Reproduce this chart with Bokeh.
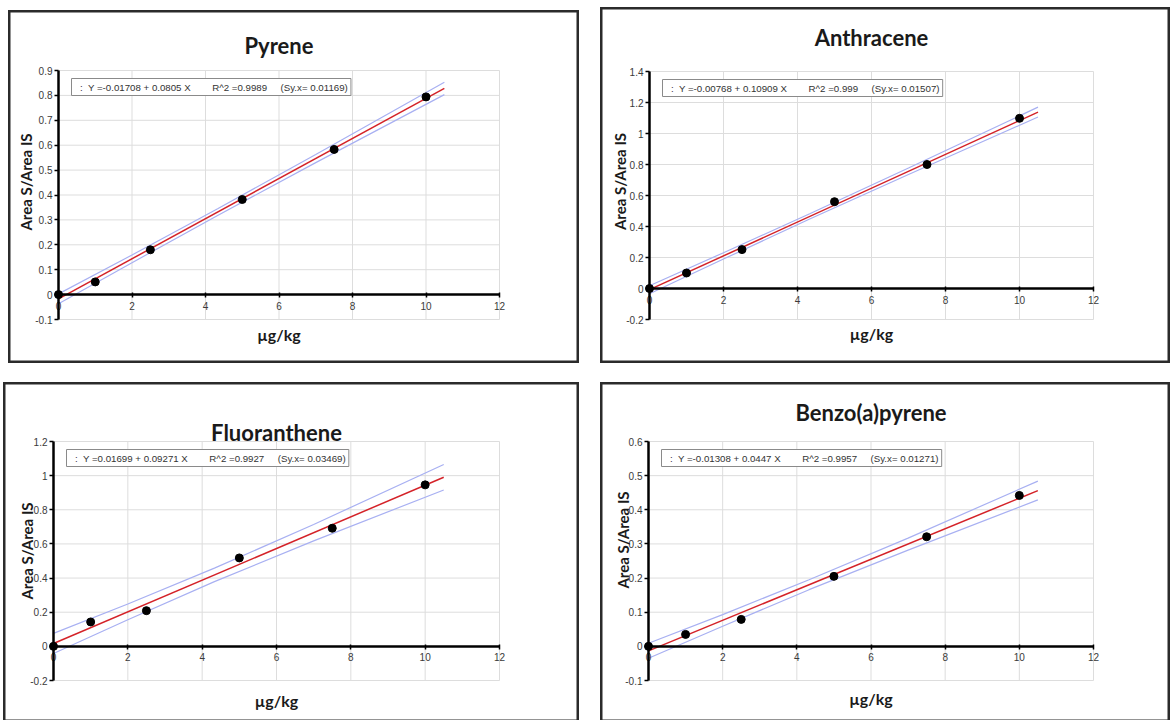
import math
from bokeh.plotting import figure
from bokeh.layouts import row, column
from bokeh.models import Label, FixedTicker, Range1d
from bokeh.embed import file_html
from bokeh.resources import INLINE

# ---------------- data ----------------
conc = [0, 1, 2.5, 5, 7.5, 10]
names = ["Pyrene", "Anthracene", "Fluoranthene", "Benzo(a)pyrene"]

pyrene = [0, 0.051, 0.18, 0.382, 0.583, 0.794]
anthracene = [0, 0.10, 0.251, 0.56, 0.80, 1.098]
fluoranthene = [0, 0.143, 0.209, 0.518, 0.692, 0.946]
benzo_a_pyrene = [0, 0.035, 0.079, 0.205, 0.321, 0.442]
responses = [pyrene, anthracene, fluoranthene, benzo_a_pyrene]

intercepts = [-0.01708, -0.00768, 0.01699, -0.01308]
slopes = [0.0805, 0.10909, 0.09271, 0.0447]
intercept_txt = ["-0.01708", "-0.00768", "0.01699", "-0.01308"]
slope_txt = ["0.0805", "0.10909", "0.09271", "0.0447"]
r2_txt = ["0.9989", "0.999", "0.9927", "0.9957"]
syx_txt = ["0.01169", "0.01507", "0.03469", "0.01271"]

fit_x = [0, 10.5]
band_x = [0, 2, 4.33, 7, 10.5]
band_upper = [
    [0.003, 0.159, 0.345, 0.563, 0.853],
    [0.018, 0.231, 0.482, 0.777, 1.170],
    [0.076, 0.248, 0.458, 0.714, 1.065],
    [0.009, 0.093, 0.195, 0.317, 0.484],
]
band_lower = [
    [-0.037, 0.128, 0.318, 0.530, 0.803],
    [-0.034, 0.190, 0.448, 0.735, 1.106],
    [-0.042, 0.156, 0.379, 0.618, 0.916],
    [-0.035, 0.059, 0.166, 0.282, 0.429],
]

x_ticks = [0, 2, 4, 6, 8, 10, 12]
x_tick_labels = ["0", "2", "4", "6", "8", "10", "12"]
y_ticks = [
    [-0.1, 0, 0.1, 0.2, 0.3, 0.4, 0.5, 0.6, 0.7, 0.8, 0.9],
    [-0.2, 0, 0.2, 0.4, 0.6, 0.8, 1.0, 1.2, 1.4],
    [-0.2, 0, 0.2, 0.4, 0.6, 0.8, 1.0, 1.2],
    [-0.1, 0, 0.1, 0.2, 0.3, 0.4, 0.5, 0.6],
]
y_tick_labels = [
    ["-0.1", "0", "0.1", "0.2", "0.3", "0.4", "0.5", "0.6", "0.7", "0.8", "0.9"],
    ["-0.2", "0", "0.2", "0.4", "0.6", "0.8", "1", "1.2", "1.4"],
    ["-0.2", "0", "0.2", "0.4", "0.6", "0.8", "1", "1.2"],
    ["-0.1", "0", "0.1", "0.2", "0.3", "0.4", "0.5", "0.6"],
]
x_title = "µg/kg"
y_title = "Area S/Area IS"

# ---------------- layout / style (pixels) ----------------
# W, H, margin(top,right,bottom,left), px of x=0, px of x=12, px of y top, px of y bottom,
# title offset, x-title offset, y-title dx, y-title dy
panel_px = [
    (571, 353, (10, 0, 0, 8), 50, 491, 60, 309, 25, -15, -33, 13),
    (570, 356, (7, 0, 0, 21), 49, 493, 64, 312, 34, -14, -30, 14),
    (576, 340, (19, 0, 0, 3), 50, 496, 59, 298, 9, -20, -27, 10),
    (570, 340, (19, 0, 0, 21), 48, 493, 59, 298, 29, -18, -26, 21),
]

TICK_FONT = "Liberation Sans"
TITLE_FONT = "Lato"
NB = "\u00a0"
GRID = "#dddddd"


def make_panel(i):
    W, H, margin, x0, x12, yT, yB, t_off, xl_off, yl_dx, yl_dy = panel_px[i]
    ymin, ymax = y_ticks[i][0], y_ticks[i][-1]
    xmin, xmax = x_ticks[0], x_ticks[-1]
    sx = (x12 - x0) / (xmax - xmin)
    sy = (yB - yT) / (ymax - ymin)
    xr = Range1d(xmin - x0 / sx, xmax + (W - x12) / sx)
    yr = Range1d(ymin - (H - yB) / sy, ymax + yT / sy)

    p = figure(width=W, height=H, x_range=xr, y_range=yr,
               output_backend="svg", toolbar_location=None,
               min_border=0, min_border_left=0, min_border_right=0,
               min_border_top=0, min_border_bottom=0,
               background_fill_color="white", border_fill_color="white")
    p.margin = margin
    p.outline_line_color = "#2b2b2b"
    p.outline_line_width = 4
    p.xgrid.visible = False
    p.ygrid.visible = False

    # grid lines drawn from the tick arrays
    p.segment(x0=x_ticks[1:], y0=[ymin] * (len(x_ticks) - 1),
              x1=x_ticks[1:], y1=[ymax] * (len(x_ticks) - 1),
              line_color=GRID, line_width=1)
    p.segment(x0=[xmin] * len(y_ticks[i]), y0=y_ticks[i],
              x1=[xmax] * len(y_ticks[i]), y1=y_ticks[i],
              line_color=GRID, line_width=1)

    # axes crossing at the origin
    p.xaxis.ticker = FixedTicker(ticks=x_ticks)
    p.xaxis.major_label_overrides = {t: l for t, l in zip(x_ticks, x_tick_labels)}
    p.yaxis.ticker = FixedTicker(ticks=y_ticks[i])
    p.yaxis.major_label_overrides = {t: l for t, l in zip(y_ticks[i], y_tick_labels[i])}
    p.xaxis.fixed_location = 0
    p.yaxis.fixed_location = 0
    p.xaxis.bounds = (xmin, xmax)
    p.yaxis.bounds = (ymin, ymax)
    for ax in (p.xaxis, p.yaxis):
        ax.axis_line_color = "black"
        ax.axis_line_width = 2.5
        ax.major_tick_line_color = "black"
        ax.major_tick_line_width = 1.5
        ax.minor_tick_line_color = None
        ax.major_label_text_font = TICK_FONT
        ax.major_label_text_font_size = "10px"
        ax.major_label_text_color = "#3a3a3a"
    p.xaxis.major_tick_in = 2
    p.xaxis.major_tick_out = 3
    p.xaxis.major_label_standoff = 4
    p.yaxis.major_tick_in = 0
    p.yaxis.major_tick_out = 4
    p.yaxis.major_label_standoff = 2

    # confidence band
    p.line(band_x, band_upper[i], line_color="#a8b0f2", line_width=1.2)
    p.line(band_x, band_lower[i], line_color="#a8b0f2", line_width=1.2)
    # fit line
    fit_y = [intercepts[i] + slopes[i] * xv for xv in fit_x]
    p.line(fit_x, fit_y, line_color="#d42228", line_width=1.5)
    # points
    p.scatter(conc, responses[i], size=8, fill_color="black", line_color="black")

    # equation box
    eq = (NB * 2 + ":" + NB * 2 + "Y =" + intercept_txt[i] + " + " + slope_txt[i] + " X"
          + NB * 8 + "R^2 =" + r2_txt[i] + NB * 5 + "(Sy.x= " + syx_txt[i] + ")")
    p.add_layout(Label(x=xmin, y=ymax, x_offset=13, y_offset=-8, text=eq,
                       text_font=TICK_FONT, text_font_size="9.7px",
                       text_color="#333333", text_baseline="top", text_align="left",
                       padding=3, border_line_color="#8a8a8a", border_line_width=1,
                       background_fill_color="white"))

    # panel title
    p.add_layout(Label(x=(xmin + xmax) / 2, y=ymax, y_offset=t_off, text=names[i],
                       text_font=TITLE_FONT, text_font_style="bold",
                       text_font_size="22px", text_color="#1a1a1a",
                       text_align="center", text_baseline="middle"))
    # x-axis title
    p.add_layout(Label(x=(xmin + xmax) / 2, y=ymin, y_offset=xl_off, text=x_title,
                       text_font=TITLE_FONT, text_font_style="bold",
                       text_font_size="16px", text_color="#1a1a1a",
                       text_align="center", text_baseline="middle"))
    # y-axis title
    p.add_layout(Label(x=xmin, y=(ymin + ymax) / 2, x_offset=yl_dx, y_offset=yl_dy,
                       text=y_title, angle=math.pi / 2,
                       text_font=TITLE_FONT, text_font_style="bold",
                       text_font_size="15px", text_color="#1a1a1a",
                       text_align="center", text_baseline="middle"))
    return p


panels = [make_panel(i) for i in range(4)]
layout = column(row(panels[0], panels[1]), row(panels[2], panels[3]))

open("out.html", "w").write(file_html(layout, INLINE))
